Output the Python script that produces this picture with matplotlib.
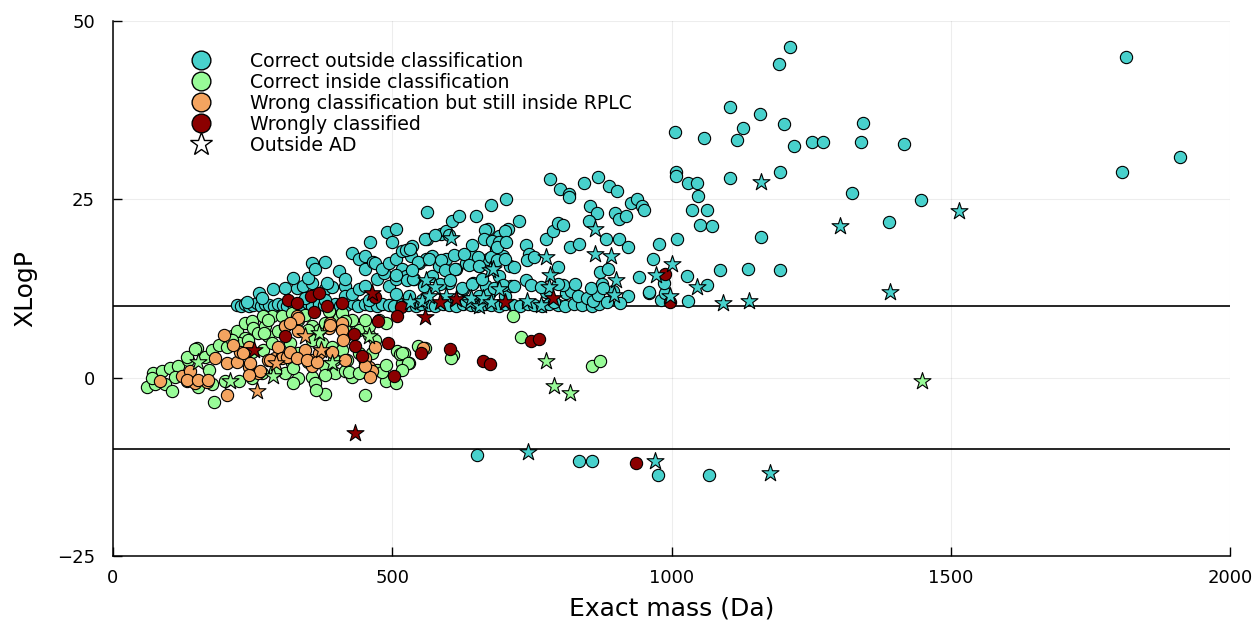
import numpy as np
import matplotlib
matplotlib.use('Agg')
import matplotlib.pyplot as plt
from matplotlib.lines import Line2D

# (exact mass [Da], XLogP)

# correct outside classification (circles)
correct_out = [
    # dense row sitting on the XLogP = 10 threshold
    (222, 10.2), (229, 10.1), (236, 10.3), (244, 10.1), (250, 10.2), (258, 10.4), (265, 10.1),
    (273, 10.3), (280, 10.2), (289, 10.1), (296, 10.3), (305, 10.2), (312, 10.1), (322, 10.3),
    (331, 10.1), (339, 10.2), (349, 10.4), (357, 10.1), (368, 10.3), (377, 10.2), (386, 10.1),
    (398, 10.3), (407, 10.1), (417, 10.2), (429, 10.4), (438, 10.1), (451, 10.3), (460, 10.2),
    (473, 10.1), (482, 10.3), (495, 10.2), (504, 10.1), (518, 10.3), (528, 10.2), (542, 10.1),
    (552, 10.3), (566, 10.2), (576, 10.1), (591, 10.3), (601, 10.2), (615, 10.1), (626, 10.3),
    (641, 10.2), (651, 10.1), (666, 10.3), (677, 10.2), (691, 10.1), (702, 10.3), (717, 10.2),
    (728, 10.1), (743, 10.3), (754, 10.2), (769, 10.1), (780, 10.3), (796, 10.2), (809, 10.1),
    (826, 10.3), (839, 10.2), (857, 10.1), (871, 10.3),
    # second layer
    (240, 10.6), (261, 11.9), (266, 11.2), (287, 12.4), (308, 12.6), (329, 12.6), (341, 12.9),
    (344, 11.2), (356, 13.3), (380, 12.4), (380, 10.9), (392, 12.7), (416, 12.8), (416, 11.4),
    (428, 11.7), (440, 12.4), (452, 12.8), (458, 10.9), (494, 12.8), (506, 11.7), (506, 13.8),
    (530, 11.4), (554, 10.9), (557, 12.8), (572, 14.2), (602, 13.3), (626, 12.4), (632, 10.7),
    (644, 13.3), (656, 11.4), (668, 12.8), (674, 11.7), (692, 14.2), (701, 11.4), (713, 12.8),
    (811, 11.8), (820, 12.2), (833, 11.5), (848, 11.2), (860, 10.8), (868, 11.6), (885, 10.6),
    (895, 12.2), (790, 10.6), (776, 12.0), (805, 13.0),
    # main cloud
    (323, 14.0), (350, 14.0), (356, 16.1), (380, 16.2), (362, 15.2), (383, 13.3), (404, 15.0),
    (416, 13.8), (428, 17.5), (440, 16.6), (452, 17.1), (452, 15.2), (461, 19.0), (465, 16.2),
    (470, 16.1), (473, 13.8), (485, 14.7), (491, 20.4), (506, 20.8), (500, 19.0), (482, 15.2),
    (494, 16.1), (506, 16.7), (518, 17.8), (518, 15.2), (524, 14.2), (533, 17.1), (536, 18.5),
    (539, 13.8), (548, 16.1), (560, 16.6), (563, 23.2), (563, 19.4), (572, 17.1), (584, 15.7),
    (587, 20.1), (596, 16.6), (596, 20.6), (607, 22.0), (614, 15.2), (620, 22.6), (632, 16.1),
    (644, 17.1), (650, 22.7), (656, 15.7), (671, 16.6), (671, 20.8), (677, 24.2), (686, 18.0),
    (692, 19.9), (698, 17.1), (704, 25.1), (707, 20.8), (710, 15.7), (727, 21.9), (666, 20.7),
    (702, 20.6), (558, 19.4), (576, 20.0), (601, 20.0), (643, 18.6), (664, 19.4), (679, 19.2),
    (691, 19.0), (739, 18.6), (745, 17.4), (776, 19.4), (787, 20.5), (796, 21.7), (805, 21.4),
    (525, 17.9), (532, 18.1), (546, 16.2), (566, 16.6), (587, 16.5), (610, 17.2), (628, 17.4),
    (653, 16.9), (676, 16.9), (688, 18.3), (703, 19.0), (595, 15.1), (613, 15.3), (637, 15.8),
    (655, 15.7), (688, 16.5), (701, 16.7), (718, 15.5), (742, 16.5), (754, 16.9), (797, 15.5),
    (526, 13.7), (538, 13.9), (535, 15.1), (507, 14.4), (585, 13.2), (603, 13.7), (624, 12.5),
    (643, 13.2), (661, 13.9), (682, 12.5), (699, 13.0), (718, 12.8), (739, 13.7), (748, 13.0),
    (766, 12.7), (796, 13.2), (827, 13.2),
    # 780 - 1000 Da
    (783, 27.8), (801, 26.5), (816, 25.8), (816, 25.3), (843, 27.3), (869, 28.2), (888, 26.8),
    (902, 26.2), (927, 24.5), (939, 25.0), (947, 24.0), (950, 23.5), (854, 24.1), (867, 23.1),
    (898, 23.1), (906, 22.2), (919, 22.7), (852, 21.9), (882, 19.4), (906, 19.4), (922, 18.3),
    (819, 18.3), (834, 18.8), (872, 14.8), (887, 15.3), (855, 12.6), (875, 13.1), (877, 12.5),
    (922, 11.5), (908, 10.5), (959, 11.8), (982, 10.9), (989, 11.8), (941, 14.1), (960, 12.0),
    (966, 16.6), (978, 18.8), (986, 13.3),
    # heavy compounds
    (1213, 46.3), (1193, 44.0), (1814, 45.0), (1105, 38.0), (1158, 37.0), (1006, 34.5),
    (1128, 35.0), (1201, 35.5), (1059, 33.6), (1117, 33.3), (1343, 35.7), (1220, 32.5),
    (1252, 33.0), (1272, 33.0), (1340, 33.0), (1417, 32.7), (1008, 28.8), (1008, 28.3),
    (1104, 28.0), (1194, 28.9), (1807, 28.8), (1910, 30.9), (1030, 27.3), (1045, 27.3),
    (1048, 25.5), (1324, 25.9), (1446, 24.9), (1037, 23.5), (1064, 23.5), (1051, 21.4),
    (1072, 21.3), (1389, 21.8), (1160, 19.7), (1009, 19.4), (1027, 14.2), (1086, 15.1),
    (1137, 15.3), (1194, 15.1), (1029, 10.8), (1064, 13.0),
    # below the XLogP = -10 threshold
    (651, -10.8), (834, -11.7), (858, -11.7), (976, -13.7), (1067, -13.7),
]

# correct inside classification (circles)
correct_in = [
    (60, -1.3), (72, 0.6), (87, 1.0), (102, 1.3), (117, 1.7), (135, 2.5), (150, 4.1), (165, 2.9),
    (177, 3.9), (189, 4.6), (204, 4.3), (213, 5.8), (222, 6.5), (237, 7.6), (249, 7.9), (251, 6.9),
    (260, 6.2), (272, 7.2), (284, 8.6), (302, 8.7), (320, 9.1), (269, 8.6), (237, 5.5), (225, 4.8),
    (249, 3.6), (269, 3.9), (278, 5.8), (296, 6.5), (308, 7.2), (332, 8.1), (356, 7.2), (368, 6.7),
    (380, 7.6), (404, 8.3), (419, 7.6), (440, 6.7), (458, 6.0), (470, 5.3), (428, 8.1), (356, 5.3),
    (374, 4.8), (332, 3.4), (320, 2.0), (350, 2.2), (380, 1.7), (398, 0.6), (416, 1.0), (428, 0.1),
    (452, 0.8), (356, 0.1), (332, -0.1), (308, 0.6), (290, 1.0), (266, 0.6), (249, -0.1),
    (225, -0.4), (201, -0.4), (177, -0.9), (153, -1.3), (132, -0.4), (111, 0.1), (93, -0.9),
    (75, -0.9), (69, -0.1), (105, -1.8), (180, -3.4), (323, -0.8), (362, -0.8), (380, -2.3),
    (452, -2.5), (488, -0.4), (506, -0.8), (518, 2.0), (530, 2.0), (392, 4.3), (410, 3.9),
    (440, 3.4), (464, 3.4), (416, 6.7), (458, 7.2), (476, 8.1), (488, 7.6), (386, 9.3), (344, 8.8),
    (410, 9.1), (132, 2.9), (147, 4.0), (171, 1.1), (213, 5.3), (241, 5.3), (270, 6.2), (278, 8.1),
    (284, 4.8), (317, 4.8), (323, 1.3), (364, -1.7), (350, 6.7), (395, 2.5), (416, 7.9), (419, 2.5),
    (452, 1.6), (473, 1.1), (380, 0.4), (422, 0.8), (440, 0.6), (509, 3.7), (521, 3.4), (482, 0.8),
    (488, 1.8), (452, 8.1), (513, 3.3), (546, 4.4), (518, 3.4), (528, 2.0), (517, 1.1), (608, 3.2),
    (605, 2.7), (731, 5.7), (717, 8.6), (857, 1.7), (872, 2.3), (558, 4.1),
]

# wrong classification but still inside RPLC (circles)
wrong_in_rplc = [
    (84, -0.4), (123, 0.3), (138, 1.0), (147, -0.8), (168, -0.6), (183, 2.7), (198, 6.0),
    (204, 2.0), (204, -2.5), (222, 2.2), (228, 3.6), (243, 1.5), (243, 4.3), (260, 0.6),
    (263, 1.0), (278, 2.5), (290, 2.7), (296, 4.3), (302, 2.7), (311, 2.9), (317, 3.6),
    (329, 8.6), (332, 6.5), (344, 3.9), (356, 2.5), (368, 3.4), (389, 7.6), (392, 3.6),
    (410, 7.6), (416, 5.8), (470, 4.3), (452, 2.2), (458, 1.5), (464, 1.0), (308, 7.2),
    (461, 0.1), (555, 4.1), (356, 1.6), (243, 0.4), (386, 7.0), (410, 6.7), (215, 4.6),
    (233, 3.5), (245, 2.1), (281, 2.5), (329, 2.7), (347, 2.5), (365, 2.2), (331, 8.3),
    (317, 7.6), (389, 7.4), (412, 5.3), (415, 2.5), (451, 2.8), (451, 1.6), (132, -0.3),
    (152, -0.3), (170, -0.3),
]

# wrongly classified (circles)
wrong = [
    (314, 10.9), (329, 10.4), (354, 11.4), (368, 11.9), (383, 10.0), (410, 10.5), (470, 11.3),
    (515, 9.9), (509, 8.6), (360, 9.2), (308, 5.8), (431, 6.1), (433, 4.5), (446, 3.1),
    (475, 7.9), (493, 4.9), (503, 0.2), (552, 3.5), (603, 4.0), (663, 2.4), (675, 1.9),
    (749, 5.1), (763, 5.4), (989, 14.6), (998, 10.6), (937, -11.9),
]

# outside the applicability domain (stars), same colour coding
correct_out_ad = [
    (1160, 27.4), (1515, 23.4), (1301, 21.2), (1391, 12.0), (1092, 10.4), (1139, 10.7),
    (1046, 12.7), (1001, 16.0), (973, 14.4), (998, 11.5), (892, 17.0), (900, 13.7), (897, 11.6),
    (863, 20.9), (863, 17.4), (775, 16.9), (783, 14.4), (781, 12.7), (606, 19.6), (675, 15.1),
    (560, 13.7), (576, 12.7), (532, 10.6), (554, 10.8), (566, 11.4), (596, 11.4), (639, 10.6),
    (641, 11.2), (655, 10.1), (662, 11.2), (676, 10.6), (680, 15.2), (692, 12.4), (742, 10.8),
    (766, 10.2), (743, -10.4), (970, -11.7), (1177, -13.4),
]
correct_in_ad = [
    (153, 2.2), (209, -0.4), (368, 6.2), (458, 5.8), (392, 2.0), (287, 0.3), (775, 2.3),
    (789, -1.1), (819, -2.1), (1448, -0.4),
]
wrong_in_rplc_ad = [(344, 5.8), (373, 3.9), (292, 2.1), (257, -1.8)]
wrong_ad = [
    (434, -7.7), (253, 3.9), (464, 11.9), (585, 10.6), (615, 11.0), (701, 10.6), (559, 8.5),
    (787, 11.1),
]

labels = ['Correct outside classification', 'Correct inside classification',
          'Wrong classification but still inside RPLC', 'Wrongly classified', 'Outside AD']
colors = ['#48D1CC', '#98FB98', '#F4A460', '#8B0000']
thresholds = [10, -10]

fig = plt.figure(figsize=(12.56, 6.22), dpi=100)
ax = fig.add_axes([113 / 1256, 1 - 556 / 622, 1117 / 1256, 535 / 622])

for y in thresholds:
    ax.axhline(y, color='black', lw=1.2, zorder=1)

circle_groups = [correct_out, correct_in, wrong_in_rplc, wrong]
star_groups = [correct_out_ad, correct_in_ad, wrong_in_rplc_ad, wrong_ad]
for pts, c in zip(circle_groups, colors):
    a = np.array(pts, dtype=float)
    ax.scatter(a[:, 0], a[:, 1], s=78, marker='o', facecolor=c, edgecolor='black',
               linewidths=0.8, zorder=2)
for pts, c in zip(star_groups, colors):
    a = np.array(pts, dtype=float)
    ax.scatter(a[:, 0], a[:, 1], s=165, marker='*', facecolor=c, edgecolor='black',
               linewidths=0.8, zorder=3)

ax.set_xlim(0, 2000)
ax.set_ylim(-25, 50)
ax.set_xticks([0, 500, 1000, 1500, 2000])
ax.set_yticks([-25, 0, 25, 50])
ax.grid(True, color='black', alpha=0.07, lw=0.8)
ax.set_axisbelow(True)
for side in ['top', 'right']:
    ax.spines[side].set_visible(False)
for side in ['left', 'bottom']:
    ax.spines[side].set_linewidth(1.1)
ax.tick_params(direction='in', length=6.5, width=1.0, labelsize=13)
ax.tick_params(axis='x', pad=9.5)
ax.tick_params(axis='y', pad=13)

ax.set_xlabel('Exact mass (Da)', fontsize=18)
ax.set_ylabel('XLogP', fontsize=18)
ax.xaxis.set_label_coords(0.5, -0.076)
ax.yaxis.set_label_coords(-0.068, 0.5)

handles = [Line2D([], [], ls='', marker='o', ms=13.5, mfc=c, mec='black', mew=1.0)
           for c in colors]
handles.append(Line2D([], [], ls='', marker='*', ms=17, mfc='white', mec='black', mew=1.0))
ax.legend(handles, labels, loc='upper left', bbox_to_anchor=(0.0618, 0.942), frameon=False,
          fontsize=13.6, borderpad=0, borderaxespad=0, handlelength=2.0, handletextpad=1.6,
          labelspacing=0.1)

fig.savefig('out.png', dpi=100)
